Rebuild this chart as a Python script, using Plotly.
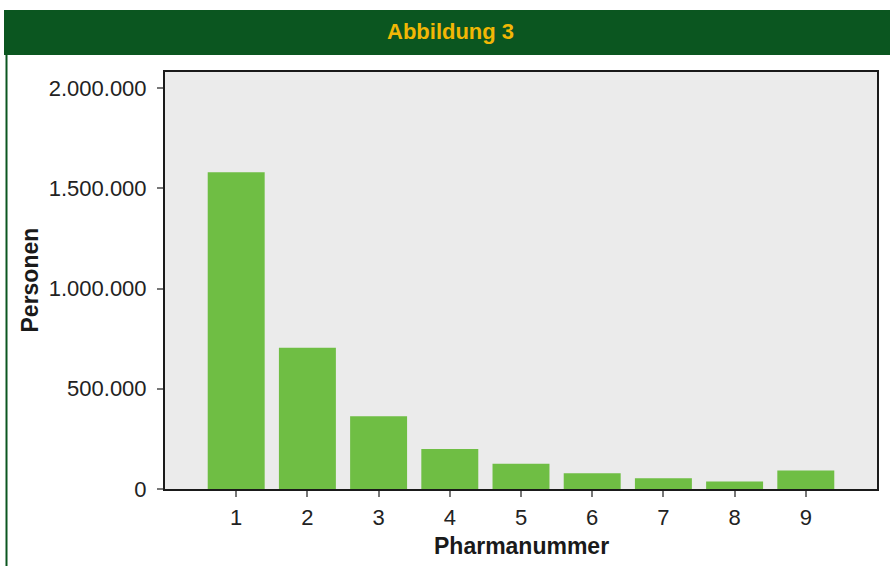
import plotly.graph_objects as go

categories = [1, 2, 3, 4, 5, 6, 7, 8, 9]
personen = [1580000, 705000, 363000, 200000, 126000, 79000, 54000, 37000, 92000]
y_ticks = [0, 500000, 1000000, 1500000, 2000000]

W, H = 890, 566
L, R, T, B = 165, 877, 72, 489  # plot area in pixels

def px(x):
    return (x - L) / (R - L)

def py(y):
    return (B - y) / (B - T)

fig = go.Figure(go.Bar(
    x=categories, y=personen, width=0.8,
    marker=dict(color="#6fbe44", line=dict(width=0)),
))

FONT = "Liberation Sans, Arial, sans-serif"

fig.update_layout(
    width=W, height=H,
    margin=dict(l=L, r=W - R, t=T, b=H - B, pad=0),
    paper_bgcolor="white", plot_bgcolor="#ebebeb",
    separators=",.",
    showlegend=False,
    font=dict(family=FONT, size=22, color="#222222"),
    xaxis=dict(
        range=[0, 10], tickmode="array", tickvals=categories,
        ticktext=[str(c) for c in categories],
        showgrid=False, zeroline=False,
        showline=True, linecolor="#1a1a1a", linewidth=2, mirror=True,
        ticks="outside", ticklen=6, tickwidth=2, tickcolor="#777777",
        ticklabelstandoff=2,
    ),
    yaxis=dict(
        range=[0, 2080000], tickmode="array", tickvals=y_ticks,
        tickformat=",d",
        showgrid=False, zeroline=False,
        showline=True, linecolor="#1a1a1a", linewidth=2, mirror=True,
        ticks="outside", ticklen=6, tickwidth=2, tickcolor="#777777",
        ticklabelstandoff=6,
    ),
    shapes=[
        dict(type="rect", xref="paper", yref="paper",
             x0=px(4), x1=px(890), y0=py(55), y1=py(10),
             fillcolor="#0b5620", line=dict(width=0), layer="above"),
        dict(type="line", xref="paper", yref="paper",
             x0=px(6.5), x1=px(6.5), y0=py(55), y1=py(566),
             line=dict(color="#0b5620", width=2)),
    ],
    annotations=[
        dict(text="<b>Abbildung 3</b>", xref="paper", yref="paper",
             x=px(450), y=py(32), xanchor="center", yanchor="middle",
             showarrow=False, font=dict(family=FONT, size=22, color="#f2b705")),
        dict(text="<b>Personen</b>", xref="paper", yref="paper",
             x=px(29), y=0.5, xanchor="center", yanchor="middle", textangle=-90,
             showarrow=False, font=dict(family=FONT, size=23, color="#1a1a1a")),
        dict(text="<b>Pharmanummer</b>", xref="paper", yref="paper",
             x=0.5, y=py(546), xanchor="center", yanchor="middle",
             showarrow=False, font=dict(family=FONT, size=23, color="#1a1a1a")),
    ],
)

fig.write_html(
    "out.html",
    config={"displayModeBar": False},
    post_script="document.body.style.margin='0';document.body.style.overflow='hidden';",
)
